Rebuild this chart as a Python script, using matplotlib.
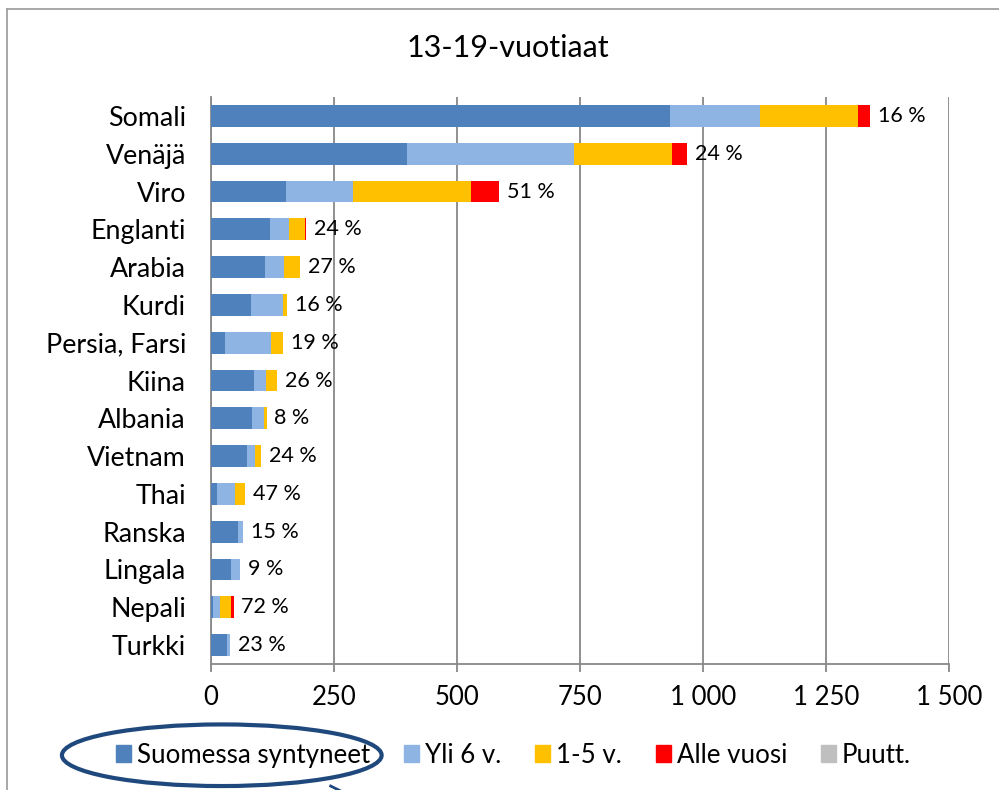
import numpy as np
import matplotlib
matplotlib.use("Agg")
from matplotlib import pyplot as plt
from matplotlib.patches import Ellipse, Rectangle
from matplotlib.lines import Line2D
from matplotlib.ticker import FuncFormatter

plt.rcParams['font.family'] = ['Lato', 'DejaVu Sans']

languages = ["Somali", "Venäjä", "Viro", "Englanti", "Arabia", "Kurdi", "Persia, Farsi",
             "Kiina", "Albania", "Vietnam", "Thai", "Ranska", "Lingala", "Nepali", "Turkki"]
born_finland = [933, 398, 153, 120, 110, 81, 29, 87, 84, 73, 12, 54, 40, 4, 33]
over_6 = [182, 340, 136, 39, 38, 65, 93, 25, 24, 17, 36, 11, 19, 14, 6]
age_1_5 = [201, 199, 240, 33, 33, 8, 24, 22, 5, 12, 21, 0, 0, 23, 0]
under_1 = [23, 31, 56, 2, 0, 0, 0, 0, 0, 0, 0, 0, 0, 5, 0]
missing = [0] * 15
pct_labels = ["16 %", "24 %", "51 %", "24 %", "27 %", "16 %", "19 %", "26 %", "8 %",
              "24 %", "47 %", "15 %", "9 %", "72 %", "23 %"]

series_names = ["Suomessa syntyneet", "Yli 6 v.", "1-5 v.", "Alle vuosi", "Puutt."]
series_colors = ["#4F81BD", "#8EB4E3", "#FFC000", "#FF0000", "#BFBFBF"]

fig = plt.figure(figsize=(9.99, 7.90), dpi=100)
ax = fig.add_axes([0.2112, 0.1595, 0.7387, 0.7177])

y = np.arange(len(languages))
left = np.zeros(len(languages))
series = [born_finland, over_6, age_1_5, under_1, missing]
for vals, name, col in zip(series, series_names, series_colors):
    vals = np.array(vals, dtype=float)
    ax.barh(y, vals, left=left, height=0.58, color=col, label=name, zorder=3)
    left += vals

for yi, tot, lab in zip(y, left, pct_labels):
    ax.text(tot + 16, yi, lab, va='center', ha='left', fontsize=15.5, zorder=4)

ax.set_xlim(0, 1500)
ax.set_ylim(len(languages) - 0.5, -0.5)
ax.set_xticks(np.arange(0, 1501, 250))
ax.xaxis.set_major_formatter(FuncFormatter(lambda v, p: "{:,.0f}".format(v).replace(",", " ")))
ax.set_yticks(y)
ax.set_yticklabels(languages, fontsize=19.3)
ax.tick_params(axis='y', length=0, pad=18)
ax.tick_params(axis='x', length=6, width=1.3, color='#888888', labelsize=18.5, pad=9)

ax.grid(axis='x', color='#888888', linewidth=1.3, zorder=0)
for s in ['top', 'right']:
    ax.spines[s].set_visible(False)
for s in ['left', 'bottom']:
    ax.spines[s].set_color('#888888')
    ax.spines[s].set_linewidth(1.3)

fig.text(0.508, 0.939, "13-19-vuotiaat", ha='center', va='center', fontsize=22)

handles = [Rectangle((0, 0), 1, 1, color=c) for c in series_colors]
fig.legend(handles, series_names, loc='center', bbox_to_anchor=(0.514, 0.044), ncol=5,
           frameon=False, fontsize=18.6, handlelength=0.6, handleheight=0.6,
           handletextpad=0.22, columnspacing=1.3)

# outer chart frame
fig.add_artist(Line2D([0.007, 0.007], [0.0, 0.989], color='#A0A0A0', lw=1.3))
fig.add_artist(Line2D([0.007, 1.0], [0.989, 0.989], color='#A0A0A0', lw=1.3))

# highlight ellipse around first legend entry
fig.add_artist(Ellipse((0.222, 0.044), 0.32, 0.078, fill=False, edgecolor='#1F497D', lw=3))
fig.add_artist(Line2D([0.331, 0.347], [0.005, -0.005], color='#1F497D', lw=2))

plt.savefig("out.png", dpi=100)
